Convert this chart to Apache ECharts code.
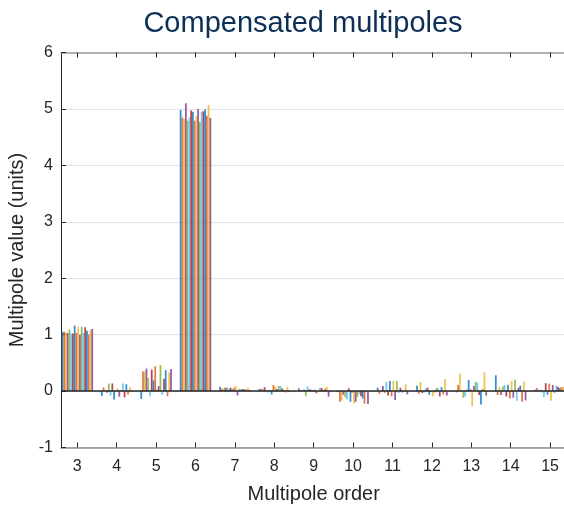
<!DOCTYPE html>
<html>
<head>
<meta charset="utf-8">
<script src="https://cdn.jsdelivr.net/npm/echarts@6/dist/echarts.min.js"></script>
<style>
html,body{margin:0;padding:0;background:#fff;}
#chart{width:564px;height:505px;}
</style>
</head>
<body>
<div id="chart"></div>
<script>
const titleText = "Compensated multipoles";
const xName = "Multipole order";
const yName = "Multipole value (units)";
const orders = [3, 4, 5, 6, 7, 8, 9, 10, 11, 12, 13, 14, 15];
const yTicks = [-1, 0, 1, 2, 3, 4, 5, 6];

// values of the 18 bars in each multipole-order group (left to right)
const v3  = [1.05, 1.05, 1.04, 1.03, 1.09, 1.02, 1.02, 1.16, 1.03, 1.14, 1.00, 1.14, 1.03, 1.13, 1.07, 1.00, 1.08, 1.10];
const v4  = [-0.09, 0.065, 0.02, -0.03, 0.135, -0.08, 0.135, -0.15, 0.01, 0.05, -0.10, 0.02, 0.135, -0.11, 0.12, -0.06, 0.07, 0.01];
const v5  = [-0.14, 0.35, 0.35, 0.40, 0.23, -0.09, 0.38, 0.19, 0.44, 0.04, 0.09, 0.46, -0.065, 0.22, 0.37, -0.09, 0.33, 0.39];
const v6  = [4.98, 4.85, 4.82, 5.10, 4.79, 4.85, 4.97, 4.95, 4.79, 4.88, 5.00, 4.77, 4.95, 4.96, 4.99, 4.88, 5.07, 4.84];
const v7  = [0.077, 0.04, 0.047, 0.06, 0.065, 0.04, 0.06, 0.03, 0.06, 0.09, -0.077, 0.04, 0.035, 0.035, 0.03, 0.03, 0.06, 0.02];
const v8  = [0.04, 0.04, 0.047, 0.07, 0.02, -0.024, 0.018, -0.06, 0.107, 0.08, 0.036, 0.09, 0.09, 0.047, 0.018, -0.024, 0.07, -0.018];
const v9  = [0.05, 0.018, 0.018, 0.03, -0.09, 0.08, 0.03, 0.024, 0.018, 0.03, -0.04, 0.01, 0.053, 0.053, 0.018, 0.04, 0.077, -0.10];
const v10 = [-0.02, -0.19, -0.17, -0.065, -0.11, -0.15, 0.05, -0.19, -0.03, -0.22, -0.19, -0.10, -0.05, -0.09, -0.13, -0.22, 0.01, -0.23];
const v11 = [0.06, -0.05, 0.02, 0.09, -0.035, 0.165, -0.08, 0.18, -0.095, 0.18, -0.16, 0.18, -0.035, 0.06, -0.024, 0.012, 0.12, -0.06];
const v12 = [0.095, -0.05, 0.16, -0.035, -0.024, 0.047, 0.06, -0.065, -0.012, -0.095, -0.024, 0.053, 0.053, -0.095, 0.07, -0.06, 0.21, -0.08];
const v13 = [-0.024, 0.11, 0.31, 0.01, -0.12, -0.095, 0.024, 0.195, 0.036, -0.27, 0.09, 0.16, 0.15, -0.07, -0.24, 0.036, 0.33, -0.08];
const v14 = [0.28, -0.07, 0.077, -0.07, 0.083, 0.107, -0.095, 0.113, -0.13, 0.18, -0.118, 0.20, -0.17, 0.06, 0.095, -0.19, 0.165, -0.165];
const v15 = [0.024, 0.053, -0.018, 0.024, -0.024, -0.11, 0.14, -0.065, 0.13, -0.17, 0.11, -0.036, 0.095, 0.077, 0.053, 0.07, 0.077, -0.17];
const groupValues = [v3, v4, v5, v6, v7, v8, v9, v10, v11, v12, v13, v14, v15];

const palette = ['#0072BD', '#D95319', '#EDB120', '#7E2F8E', '#77AC30', '#4DBEEE', '#A2142F'];
const txt = '#262626';
const nSeries = v3.length;

const series = [];
for (let s = 0; s < nSeries; s++) {
  const ser = {
    type: 'bar',
    name: 'S' + (s + 1),
    barGap: '0%',
    barCategoryGap: '20%',
    itemStyle: { color: palette[s % palette.length], opacity: 0.8 },
    data: orders.map((o, i) => [o, groupValues[i][s]]),
    silent: true,
    animation: false
  };
  if (s === nSeries - 1) {
    ser.markLine = {
      silent: true, symbol: 'none', animation: false,
      label: { show: false },
      lineStyle: { color: txt, width: 1.5, type: 'solid' },
      data: [{ yAxis: 0 }]
    };
  }
  series.push(ser);
}

const chart = echarts.init(document.getElementById('chart'), null, { renderer: 'canvas' });
const xMin = 2.586, xMax = 15.414;
chart.setOption({
  animation: false,
  backgroundColor: '#ffffff',
  title: {
    text: titleText,
    left: 298, top: 4, textAlign: 'center',
    textStyle: { fontFamily: 'Liberation Sans, Arial, sans-serif', fontSize: 29, fontWeight: 'normal', color: '#0b2f57' }
  },
  grid: { left: 61, top: 52.5, width: 505.4, height: 395, containLabel: false, outerBoundsMode: 'none' },
  xAxis: [{
    type: 'value', min: xMin, max: xMax, position: 'bottom',
    name: xName, nameLocation: 'middle', nameGap: 37,
    nameTextStyle: { fontFamily: 'Liberation Sans, Arial, sans-serif', fontSize: 20, color: txt },
    axisLine: { show: true, onZero: false, lineStyle: { color: '#8a8a8a', width: 1.5 } },
    axisTick: { show: true, inside: true, length: 5, customValues: orders, lineStyle: { color: txt } },
    axisLabel: { customValues: orders, margin: 11, fontFamily: 'Liberation Sans, Arial, sans-serif', fontSize: 16, color: txt },
    splitLine: { show: false }
  }, {
    type: 'value', min: xMin, max: xMax, position: 'top',
    axisLine: { show: true, onZero: false, lineStyle: { color: '#9a9a9a', width: 1.5 } },
    axisTick: { show: true, inside: true, length: 5, customValues: orders, lineStyle: { color: txt } },
    axisLabel: { show: false },
    splitLine: { show: false }
  }],
  yAxis: {
    type: 'value', min: -1, max: 6, interval: 1,
    name: yName, nameLocation: 'middle', nameGap: 31, nameRotate: 90,
    nameTextStyle: { fontFamily: 'Liberation Sans, Arial, sans-serif', fontSize: 20, color: txt },
    axisLine: { show: true, onZero: false, lineStyle: { color: txt, width: 1 } },
    axisTick: { show: true, inside: true, length: 5, lineStyle: { color: txt } },
    axisLabel: { margin: 8, fontFamily: 'Liberation Sans, Arial, sans-serif', fontSize: 16, color: txt,
      formatter: v => (yTicks.indexOf(v) >= 0 ? String(v) : '') },
    splitLine: { show: true, lineStyle: { color: '#e3e3e3', width: 1 } }
  },
  series: series
});
</script>
</body>
</html>
